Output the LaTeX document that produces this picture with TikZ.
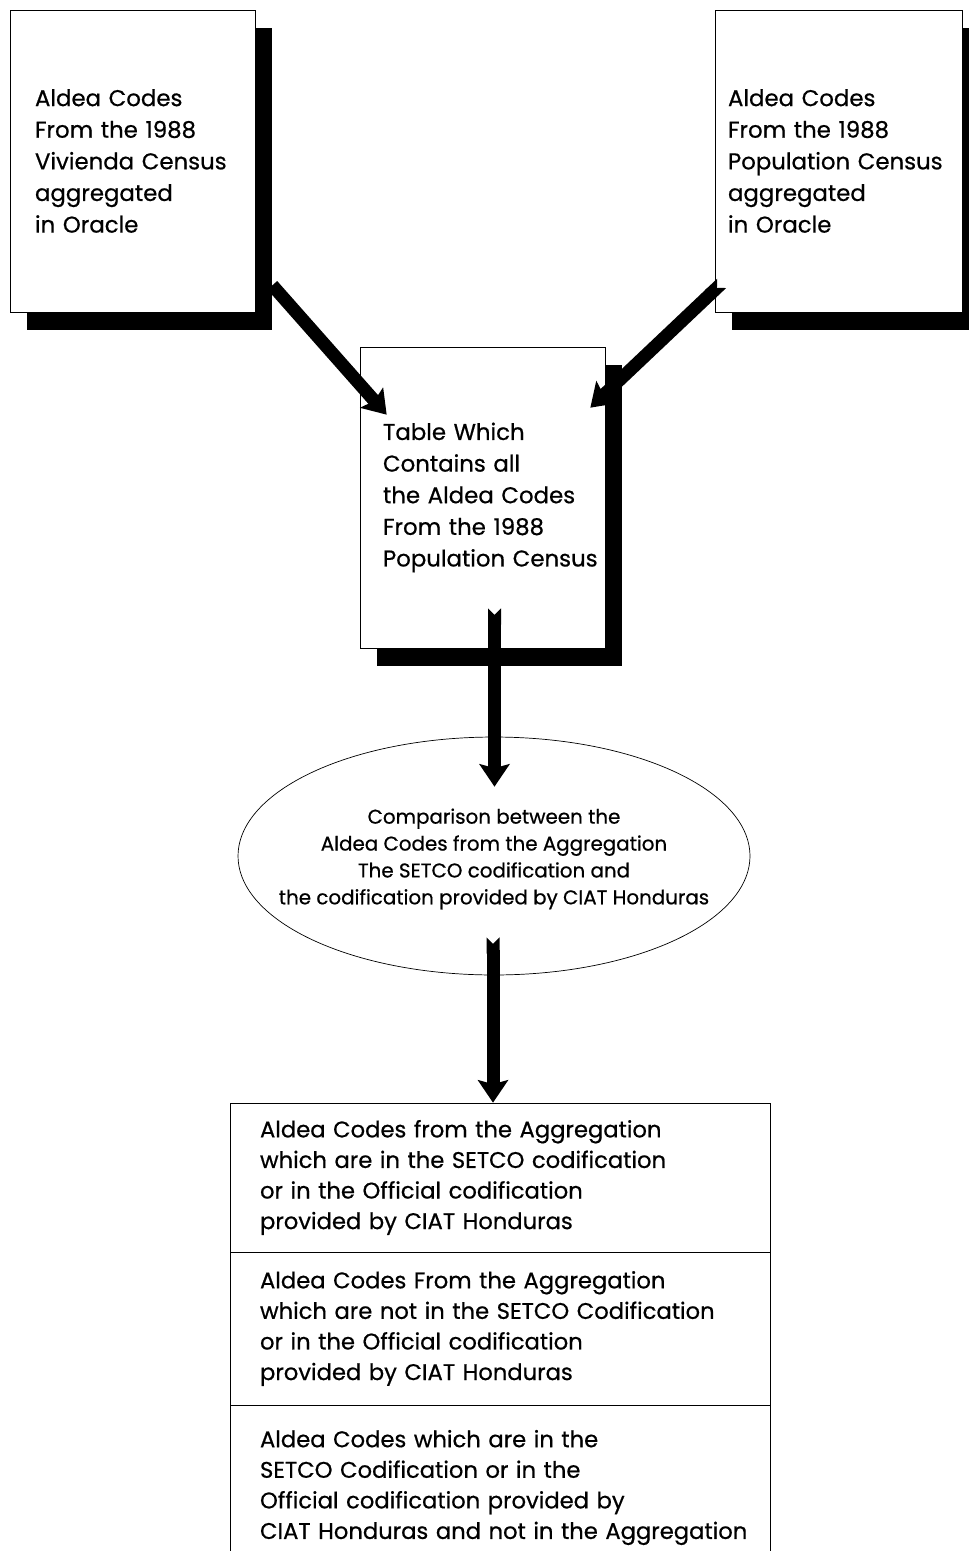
\documentclass[tikz,border=0pt]{standalone}
\usepackage{fontspec}
\setmainfont{Poppins}[UprightFeatures={FakeBold=0.6}]
\usetikzlibrary{shapes.geometric,shadows,arrows.meta}
\tikzset{card/.style = {draw,thin,fill=white,align=left,inner ysep=0pt,
  drop shadow={shadow xshift=0.34cm,shadow yshift=-0.36cm,fill=black,opacity=1},
  font=\fontsize{13}{18}\selectfont}}
\tikzset{result/.style = {draw,thin,align=left,minimum width=10.8cm,inner xsep=0.6cm,
  text width=9.6cm,font=\fontsize{12.9}{17.4}\selectfont}}
\tikzset{flow/.style = {line width=0.26cm,-{Stealth[width=0.6cm,length=0.45cm,inset=0.08cm]}}}
\tikzset{tailed/.style = {flow,{Triangle Cap[reversed]}-{Stealth[width=0.6cm,length=0.45cm,inset=0.08cm]}}}

\begin{document}
\begin{tikzpicture}[x=0.02cm,y=-0.02cm]
            \useasboundingbox (0,0) rectangle (968,1551);

            % Source tables
            \node[card,minimum width=4.9cm,minimum height=6.04cm,inner xsep=0.5cm,text width=3.9cm]
                (vivienda) at (132.5,161) {Aldea Codes\\From the 1988\\Vivienda Census\\aggregated\\in Oracle};
            \node[card,minimum width=4.94cm,minimum height=6.04cm,inner xsep=0.26cm,text width=4.42cm]
                (poblacion) at (838.5,161) {Aldea Codes\\From the 1988\\Population Census\\aggregated\\in Oracle};

            % Merged table
            \node[card,minimum width=4.9cm,minimum height=6.02cm,inner xsep=0.46cm,text width=3.98cm]
                (tabla) at (482.5,497.5) {Table Which\\Contains all\\the Aldea Codes\\From the 1988\\\mbox{Population Census}};

            % Comparison
            \node[ellipse,draw,thin,fill=white,minimum width=10.24cm,minimum height=4.76cm,inner sep=0pt,
                label={[align=center,font=\fontsize{11.3}{15.3}\selectfont,yshift=-0.06cm]center:Comparison between the\\Aldea Codes from the Aggregation\\The SETCO codification and\\the codification provided by CIAT Honduras}]
                (compara) at (494,856) {};

            % Results
            \node[result,minimum height=2.98cm] (res1) at (500,1177.5) {Aldea Codes from the Aggregation\\which are in the SETCO codification\\or in the Official codification\\provided by CIAT Honduras};
            \node[result,minimum height=3.06cm] (res2) at (500,1328.5) {Aldea Codes From the Aggregation\\which are not in the SETCO Codification\\or in the Official codification\\provided by CIAT Honduras};
            \node[result,minimum height=3.3cm] (res3) at (500,1487.5) {Aldea Codes which are in the\\SETCO Codification or in the\\Official codification provided by\\\mbox{CIAT Honduras and not in the Aggregation}};

            % Arrow ends
            \coordinate (t1) at ([shift={(17,-27)}]vivienda.south east);
            \coordinate (h1) at ([shift={(27,68)}]tabla.north west);
            \coordinate (t2) at ([shift={(7,-29)}]poblacion.south west);
            \coordinate (h2) at ([shift={(-15,61)}]tabla.north east);
            \coordinate (t3) at ([shift={(12,-40)}]tabla.south);
            \coordinate (h3) at ([shift={(0,50)}]compara.north);
            \coordinate (t4) at ([shift={(-1,-38)}]compara.south);

            % Arrows
            \draw[flow] (t1) -- (h1);
            \draw[tailed] (t2) -- (h2);
            \draw[tailed] (t3) -- (t3 |- h3);
            \draw[tailed] (t4) -- (t4 |- res1.north);
        \end{tikzpicture}
\end{document}
